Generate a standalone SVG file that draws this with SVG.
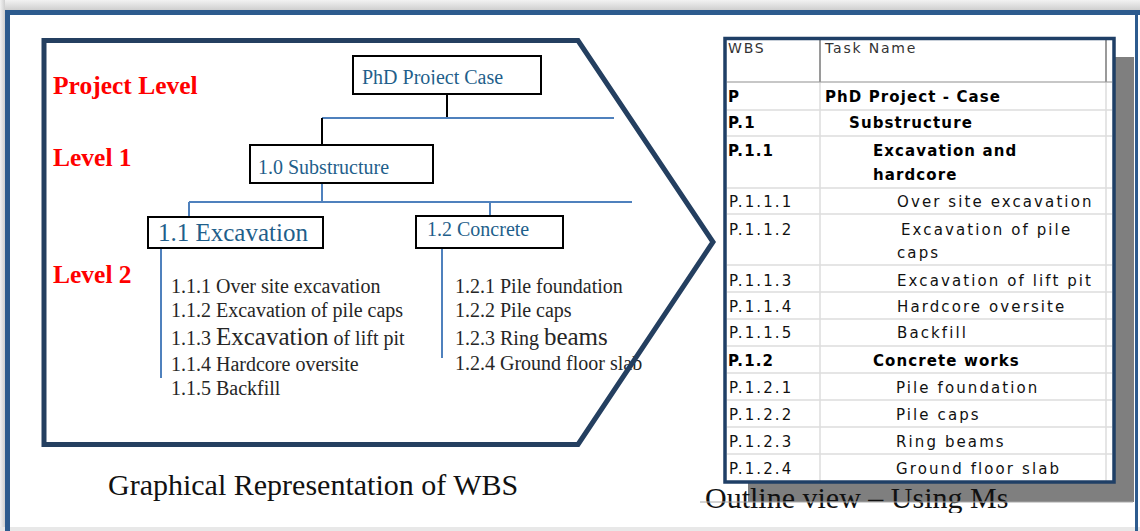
<svg xmlns="http://www.w3.org/2000/svg" width="1140" height="531" viewBox="0 0 1140 531">
<defs>
<linearGradient id="gTop" x1="0" y1="0" x2="0" y2="1"><stop offset="0" stop-color="#f2f2f2"/><stop offset="1" stop-color="#cfcfcf"/></linearGradient>
<linearGradient id="gLeft" x1="0" y1="0" x2="1" y2="0"><stop offset="0" stop-color="#f2f2f2"/><stop offset="1" stop-color="#cfcfcf"/></linearGradient>
<clipPath id="clipPhd"><rect x="355" y="58" width="184" height="26.5"/></clipPath>
<clipPath id="clipOut"><rect x="690" y="470" width="400" height="43"/></clipPath>
</defs>
<style>
.lvl{font-family:"Liberation Serif",serif;font-weight:bold;font-size:25.5px;fill:#ff0000}
.box{fill:#ffffff;stroke:#000000;stroke-width:2}
.ntx{font-family:"Liberation Serif",serif;font-size:20px;fill:#1f5f8b}
.item{font-family:"Liberation Serif",serif;font-size:20px;fill:#262626}
.big{font-size:25px}
.blue{stroke:#4f81bd;stroke-width:2;fill:none}
.blk{stroke:#000000;stroke-width:2;fill:none}
.cap{font-family:"Liberation Serif",serif;font-size:30px;fill:#111111}
.hd{font-family:"DejaVu Sans",sans-serif;font-size:14px;letter-spacing:1.8px;fill:#333333}
.tb{font-family:"DejaVu Sans",sans-serif;font-size:15px;font-weight:bold;letter-spacing:1.1px;fill:#000000}
.tn{font-family:"DejaVu Sans",sans-serif;font-size:15px;letter-spacing:2.1px;fill:#111111}
.grid{stroke:#dcdcdc;stroke-width:1.5}
</style>
<rect x="0" y="0" width="1140" height="531" fill="#ffffff"/>
<g id="frame">
<rect x="0" y="0" width="1140" height="10" fill="url(#gTop)"/>
<rect x="0" y="0" width="5" height="531" fill="url(#gLeft)"/>
<rect x="0" y="527" width="1140" height="4" fill="#e8e8e8"/>
<line x1="5" y1="12.5" x2="1140" y2="12.5" stroke="#2d5b8e" stroke-width="5"/>
<line x1="7.5" y1="10" x2="7.5" y2="531" stroke="#2d5b8e" stroke-width="5"/>
<line x1="1136.5" y1="10" x2="1136.5" y2="531" stroke="#2d5b8e" stroke-width="3"/>
</g>
<polygon id="panelFill" points="44,40.5 578,40.5 713,242 578,444.5 44,444.5" fill="#ffffff"/>
<g id="levels">
<text class="lvl" x="53" y="94">Project Level</text>
<text class="lvl" x="53" y="166">Level 1</text>
<text class="lvl" x="53" y="283">Level 2</text>
</g>
<g id="connectors">
<line class="blk" x1="447" y1="94" x2="447" y2="118"/>
<line class="blue" x1="322" y1="118" x2="614" y2="118"/>
<line class="blk" x1="322" y1="118" x2="322" y2="145"/>
<line class="blue" x1="322" y1="183" x2="322" y2="202"/>
<line class="blue" x1="189" y1="202" x2="632" y2="202"/>
<line class="blue" x1="189" y1="202" x2="189" y2="217"/>
<line class="blue" x1="490" y1="202" x2="490" y2="216"/>
<line class="blue" x1="161" y1="248" x2="161" y2="378"/>
<line class="blue" x1="442" y1="248" x2="442" y2="358"/>
</g>
<g id="node-project">
<rect class="box" x="353" y="56" width="188" height="38"/>
<text class="ntx" x="362" y="83.5" clip-path="url(#clipPhd)">PhD Project Case</text>
</g>
<g id="node-substructure">
<rect class="box" x="250" y="145" width="183" height="38"/>
<text class="ntx" x="258" y="174">1.0 Substructure</text>
</g>
<g id="node-excavation">
<rect class="box" x="148" y="217" width="175" height="31"/>
<text class="ntx big" x="158" y="241">1.1 Excavation</text>
</g>
<g id="node-concrete">
<rect class="box" x="416" y="216" width="147" height="32"/>
<text class="ntx" x="427" y="236">1.2 Concrete</text>
</g>
<g id="list-excavation">
<text class="item" x="171" y="293">1.1.1 Over site excavation</text>
<text class="item" x="171" y="317">1.1.2 Excavation of pile caps</text>
<text class="item" x="171" y="345">1.1.3 <tspan class="big">Excavation</tspan> of lift pit</text>
<text class="item" x="171" y="371">1.1.4 Hardcore oversite</text>
<text class="item" x="171" y="395">1.1.5 Backfill</text>
</g>
<g id="list-concrete">
<text class="item" x="455" y="293">1.2.1 Pile foundation</text>
<text class="item" x="455" y="317">1.2.2 Pile caps</text>
<text class="item" x="455" y="345">1.2.3 Ring <tspan class="big">beams</tspan></text>
<text class="item" x="455" y="370">1.2.4 Ground floor slab</text>
</g>
<polygon id="panelOutline" points="44,40.5 578,40.5 713,242 578,444.5 44,444.5" fill="none" stroke="#243f60" stroke-width="5"/>
<g id="outline-table">
<rect x="1114" y="57" width="20" height="445" fill="#7f7f7f"/>
<rect x="748" y="482" width="386" height="20" fill="#7f7f7f"/>
<rect x="725" y="38.5" width="389" height="443.5" fill="#ffffff"/>
<g>
<line class="grid" x1="727" y1="110" x2="1112" y2="110"/>
<line class="grid" x1="727" y1="136" x2="1112" y2="136"/>
<line class="grid" x1="727" y1="188" x2="1112" y2="188"/>
<line class="grid" x1="727" y1="214" x2="1112" y2="214"/>
<line class="grid" x1="727" y1="265" x2="1112" y2="265"/>
<line class="grid" x1="727" y1="292" x2="1112" y2="292"/>
<line class="grid" x1="727" y1="319" x2="1112" y2="319"/>
<line class="grid" x1="727" y1="346" x2="1112" y2="346"/>
<line class="grid" x1="727" y1="373" x2="1112" y2="373"/>
<line class="grid" x1="727" y1="400" x2="1112" y2="400"/>
<line class="grid" x1="727" y1="427" x2="1112" y2="427"/>
<line class="grid" x1="727" y1="454" x2="1112" y2="454"/>
<line class="grid" x1="820" y1="82" x2="820" y2="481"/>
<line class="grid" x1="1106" y1="82" x2="1106" y2="481"/>
<line x1="727" y1="82" x2="1112" y2="82" stroke="#b4b4b4" stroke-width="1.5"/>
<line x1="820" y1="40" x2="820" y2="82" stroke="#9a9a9a" stroke-width="2"/>
<line x1="1106" y1="40" x2="1106" y2="82" stroke="#9a9a9a" stroke-width="2"/>
</g>
<rect x="725" y="38.5" width="389" height="443.5" fill="none" stroke="#1f3f66" stroke-width="3.5"/>
<text class="hd" x="728" y="53">WBS</text>
<text class="hd" x="825" y="53">Task Name</text>
<text class="tb" x="728" y="102">P</text><text class="tb" x="825" y="102">PhD Project - Case</text>
<text class="tb" x="728" y="128">P.1</text><text class="tb" x="849" y="128">Substructure</text>
<text class="tb" x="728" y="156">P.1.1</text><text class="tb" x="873" y="156">Excavation and</text>
<text class="tb" x="873" y="180">hardcore</text>
<text class="tn" x="729" y="207">P.1.1.1</text><text class="tn" x="897" y="207">Over site excavation</text>
<text class="tn" x="729" y="235">P.1.1.2</text><text class="tn" x="901" y="235">Excavation of pile</text>
<text class="tn" x="897" y="258">caps</text>
<text class="tn" x="729" y="286">P.1.1.3</text><text class="tn" x="897" y="286">Excavation of lift pit</text>
<text class="tn" x="729" y="312">P.1.1.4</text><text class="tn" x="897" y="312">Hardcore oversite</text>
<text class="tn" x="729" y="338">P.1.1.5</text><text class="tn" x="897" y="338">Backfill</text>
<text class="tb" x="728" y="366">P.1.2</text><text class="tb" x="873" y="366">Concrete works</text>
<text class="tn" x="729" y="393">P.1.2.1</text><text class="tn" x="896" y="393">Pile foundation</text>
<text class="tn" x="729" y="420">P.1.2.2</text><text class="tn" x="896" y="420">Pile caps</text>
<text class="tn" x="729" y="447">P.1.2.3</text><text class="tn" x="896" y="447">Ring beams</text>
<text class="tn" x="729" y="474">P.1.2.4</text><text class="tn" x="896" y="474">Ground floor slab</text>
</g>
<g id="captions">
<text class="cap" x="108" y="495">Graphical Representation of WBS</text>
<text class="cap" x="705" y="508" clip-path="url(#clipOut)">Outline view – Using Ms</text>
<line x1="700" y1="502" x2="1133" y2="502" stroke="#a8a8a8" stroke-width="1"/>
</g>
</svg>
